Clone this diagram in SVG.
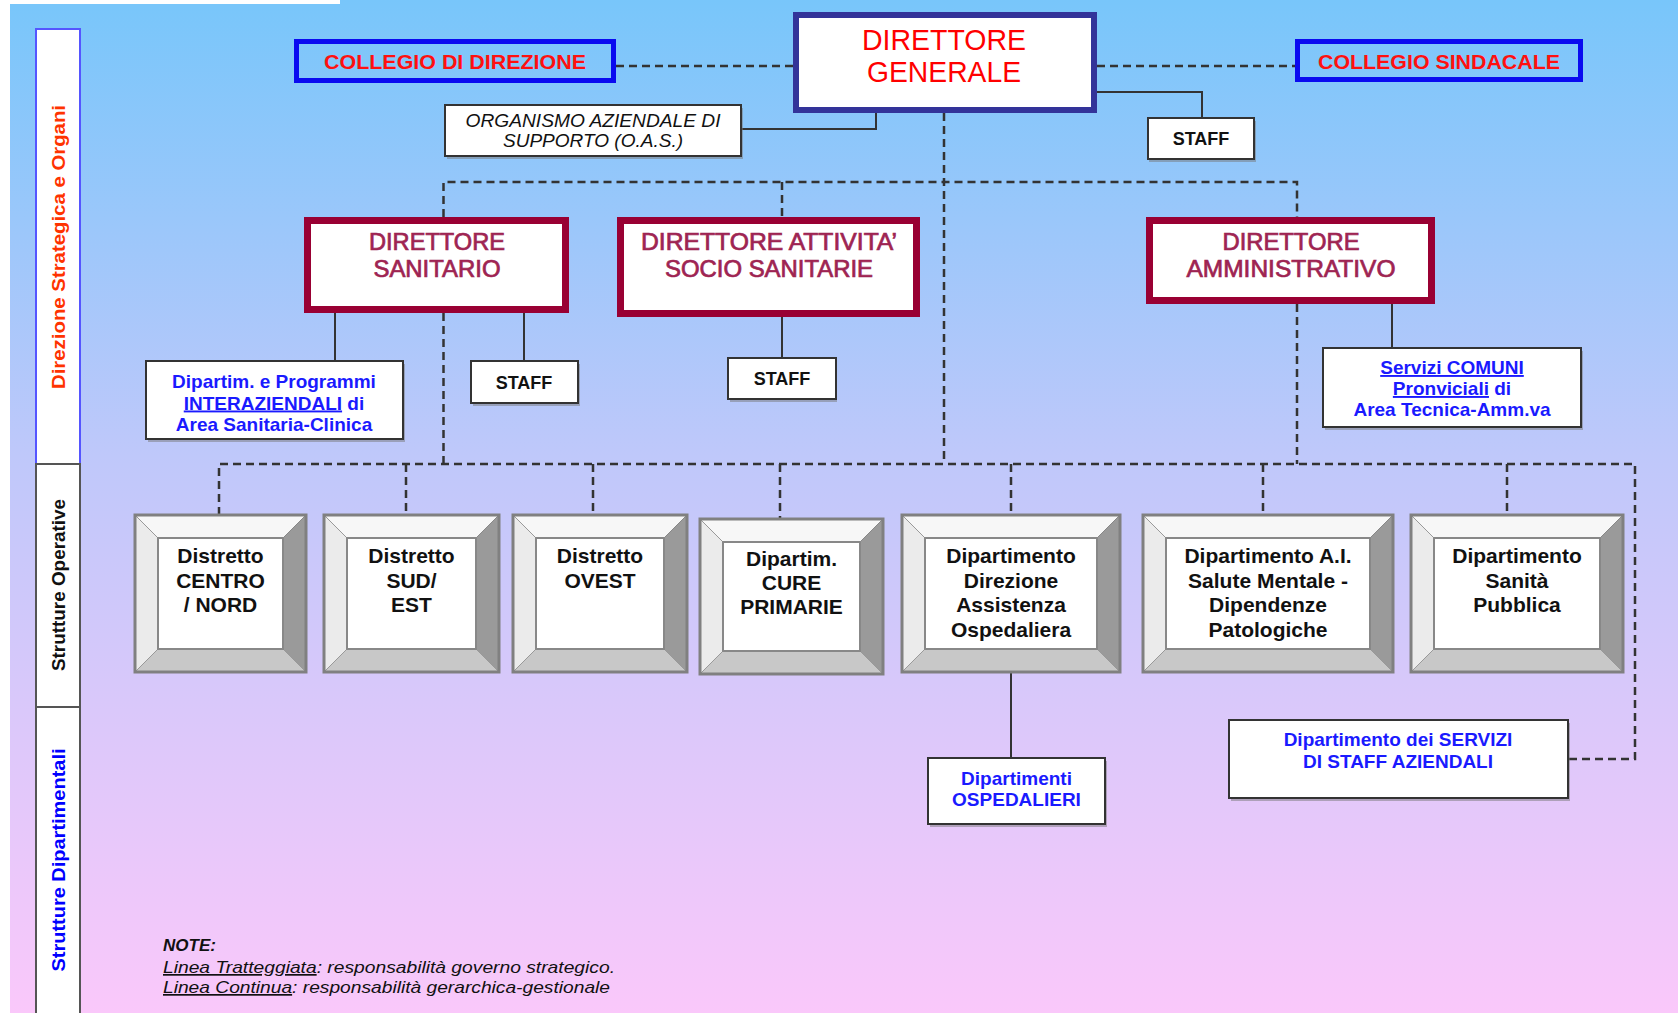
<svg xmlns="http://www.w3.org/2000/svg" width="1678" height="1013" viewBox="0 0 1678 1013">
<defs>
<linearGradient id="bg" x1="0" y1="0" x2="0" y2="1">
<stop offset="0" stop-color="#78C6FA"/>
<stop offset="0.45" stop-color="#BFC8FA"/>
<stop offset="1" stop-color="#FAC8FA"/>
</linearGradient>
</defs>
<style>
text{font-family:"Liberation Sans",Arial,sans-serif;}
.box{fill:#fff;stroke:#333;stroke-width:2;}
.shadow{fill:#777;opacity:0.5;}
.blue{fill:none;stroke:#0A0AF0;stroke-width:5;}
.navy{fill:#fff;stroke:#333399;stroke-width:6;}
.crim{fill:#fff;stroke:#990033;stroke-width:7;}
.t-red{fill:#FF1010;font-weight:bold;font-size:21px;text-anchor:middle;}
.t-dg{fill:#FF0000;font-size:29px;text-anchor:middle;}
.t-dir{fill:#9E2452;stroke:#9E2452;stroke-width:0.7;font-size:23px;text-anchor:middle;}
.t-staff{fill:#111;font-weight:bold;font-size:18px;text-anchor:middle;}
.t-blue{fill:#1A1AFF;font-weight:bold;font-size:19px;text-anchor:middle;}
.t-bev{fill:#111;font-weight:bold;font-size:21px;text-anchor:middle;}
.t-it{fill:#111;font-style:italic;font-size:18px;text-anchor:middle;}
.t-note{fill:#111;font-style:italic;font-size:17px;}
.bt{fill:#F7F7F7;stroke:#999;stroke-width:1;}
.bl{fill:#EBEBEB;stroke:#999;stroke-width:1;}
.br{fill:#9A9A9A;stroke:#888;stroke-width:1;}
.bb{fill:#C8C8C8;stroke:#999;stroke-width:1;}
.face{fill:#fff;stroke:#888;stroke-width:2;}
.outer{fill:none;stroke:#808080;stroke-width:3;}
.dash{fill:none;stroke:#333;stroke-width:2.5;stroke-dasharray:8 5;}
.solid{fill:none;stroke:#333;stroke-width:2;}
.side{fill:#fff;stroke-width:2;}
</style>

<rect x="0" y="0" width="1678" height="1013" fill="url(#bg)"/>
<rect x="0" y="0" width="10" height="1013" fill="#fff"/>
<rect x="0" y="0" width="340" height="4" fill="#fff"/>

<g id="side-labels">
<rect class="side" x="36" y="29" width="44" height="435" stroke="#5555FF"/>
<rect class="side" x="36" y="464" width="44" height="243" stroke="#555"/>
<rect class="side" x="36" y="707" width="44" height="310" stroke="#555"/>
<text transform="translate(65,247) rotate(-90)" text-anchor="middle" font-size="19" font-weight="bold" fill="#FF3300" textLength="284" lengthAdjust="spacingAndGlyphs">Direzione Strategica e Organi</text>
<text transform="translate(65,585) rotate(-90)" text-anchor="middle" font-size="19" font-weight="bold" fill="#111" textLength="172" lengthAdjust="spacingAndGlyphs">Strutture Operative</text>
<text transform="translate(65,860) rotate(-90)" text-anchor="middle" font-size="19" font-weight="bold" fill="#0000FF" textLength="223" lengthAdjust="spacingAndGlyphs">Strutture Dipartimentali</text>
</g>

<g id="connectors">
<path class="dash" d="M616 66 H793"/>
<path class="dash" d="M1097 66 H1295"/>
<path class="dash" d="M944 113 V464"/>
<path class="dash" d="M443.5 217 V182 H1297 V217"/>
<path class="dash" d="M782 182 V217"/>
<path class="dash" d="M443.5 313 V464"/>
<path class="dash" d="M1297 304 V464"/>
<path class="dash" d="M219 515 V464 H1635 V759 H1568"/>
<path class="dash" d="M406 464 V515"/>
<path class="dash" d="M593 464 V515"/>
<path class="dash" d="M780 464 V519"/>
<path class="dash" d="M1011 464 V515"/>
<path class="dash" d="M1263 464 V515"/>
<path class="dash" d="M1507 464 V515"/>
<path class="solid" d="M876 113 V129 H742"/>
<path class="solid" d="M1097 92 H1202 V118"/>
<path class="solid" d="M335 313 V361"/>
<path class="solid" d="M524 313 V361"/>
<path class="solid" d="M782 317 V358"/>
<path class="solid" d="M1392 304 V348"/>
<path class="solid" d="M1011 672 V758"/>
</g>

<g id="collegio-direzione">
<rect x="296.5" y="41.5" width="317" height="39" fill="#fff" class="blue"/>
<text class="t-red" x="455" y="68.5" textLength="262" lengthAdjust="spacingAndGlyphs">COLLEGIO DI DIREZIONE</text>
</g>

<g id="direttore-generale">
<rect class="navy" x="796" y="15" width="298" height="95"/>
<text class="t-dg" x="944" y="50" textLength="164" lengthAdjust="spacingAndGlyphs">DIRETTORE</text>
<text class="t-dg" x="944" y="82" textLength="154" lengthAdjust="spacingAndGlyphs">GENERALE</text>
</g>

<g id="collegio-sindacale">
<rect x="1297.5" y="41.5" width="283" height="38" fill="#fff" class="blue"/>
<text class="t-red" x="1439" y="68.5" textLength="242" lengthAdjust="spacingAndGlyphs">COLLEGIO SINDACALE</text>
</g>

<g id="oas">
<rect class="shadow" x="447" y="108" width="296" height="51"/>
<rect class="box" x="445" y="105" width="296" height="51"/>
<text class="t-it" x="593" y="127" textLength="255" lengthAdjust="spacingAndGlyphs">ORGANISMO AZIENDALE DI</text>
<text class="t-it" x="593" y="147" textLength="180" lengthAdjust="spacingAndGlyphs">SUPPORTO (O.A.S.)</text>
</g>

<g id="staff-dg">
<rect class="shadow" x="1149" y="121" width="107" height="41"/>
<rect class="box" x="1148" y="118" width="106" height="41"/>
<text class="t-staff" x="1201" y="145">STAFF</text>
</g>

<g id="direttore-sanitario">
<rect class="crim" x="307.5" y="220.5" width="258" height="89"/>
<text class="t-dir" x="437" y="250" textLength="136" lengthAdjust="spacingAndGlyphs">DIRETTORE</text>
<text class="t-dir" x="437" y="277" textLength="127" lengthAdjust="spacingAndGlyphs">SANITARIO</text>
</g>

<g id="direttore-socio-sanitario">
<rect class="crim" x="620.5" y="220.5" width="296" height="93"/>
<text class="t-dir" x="769" y="250" textLength="256" lengthAdjust="spacingAndGlyphs">DIRETTORE ATTIVITA’</text>
<text class="t-dir" x="769" y="277" textLength="208" lengthAdjust="spacingAndGlyphs">SOCIO SANITARIE</text>
</g>

<g id="direttore-amministrativo">
<rect class="crim" x="1149.5" y="220.5" width="282" height="80"/>
<text class="t-dir" x="1291" y="250" textLength="137" lengthAdjust="spacingAndGlyphs">DIRETTORE</text>
<text class="t-dir" x="1291" y="277" textLength="209" lengthAdjust="spacingAndGlyphs">AMMINISTRATIVO</text>
</g>

<g id="dip-interaziendali">
<rect class="shadow" x="148" y="364" width="257" height="78"/>
<rect class="box" x="146" y="361" width="257" height="78"/>
<text class="t-blue" x="274" y="388">Dipartim. e Programmi</text>
<text class="t-blue" x="274" y="409.5"><tspan text-decoration="underline">INTERAZIENDALI</tspan> di</text>
<text class="t-blue" x="274" y="430.5">Area Sanitaria-Clinica</text>
</g>

<g id="staff-sanitario">
<rect class="shadow" x="473" y="364" width="107" height="42"/>
<rect class="box" x="471" y="361" width="107" height="42"/>
<text class="t-staff" x="524" y="388.5">STAFF</text>
</g>

<g id="staff-socio">
<rect class="shadow" x="730" y="361" width="107" height="41"/>
<rect class="box" x="728" y="358" width="108" height="41"/>
<text class="t-staff" x="782" y="385">STAFF</text>
</g>

<g id="servizi-comuni">
<rect class="shadow" x="1325" y="351" width="258" height="79"/>
<rect class="box" x="1323" y="348" width="258" height="79"/>
<text class="t-blue" x="1452" y="374"><tspan text-decoration="underline">Servizi COMUNI</tspan></text>
<text class="t-blue" x="1452" y="395"><tspan text-decoration="underline">Pronviciali</tspan> di</text>
<text class="t-blue" x="1452" y="416">Area Tecnica-Amm.va</text>
</g>

<g id="distretto-centro-nord">
<polygon class="bt" points="135,515 306,515 283,538 158,538"/>
<polygon class="bl" points="135,515 158,538 158,649 135,672"/>
<polygon class="br" points="306,515 306,672 283,649 283,538"/>
<polygon class="bb" points="135,672 158,649 283,649 306,672"/>
<rect class="face" x="158" y="538" width="125" height="111"/>
<rect class="outer" x="135" y="515" width="171" height="157"/>
<text class="t-bev" x="220.5" y="563">Distretto</text>
<text class="t-bev" x="220.5" y="587.5">CENTRO</text>
<text class="t-bev" x="220.5" y="612">/ NORD</text>
</g>

<g id="distretto-sud-est">
<polygon class="bt" points="324,515 499,515 476,538 347,538"/>
<polygon class="bl" points="324,515 347,538 347,649 324,672"/>
<polygon class="br" points="499,515 499,672 476,649 476,538"/>
<polygon class="bb" points="324,672 347,649 476,649 499,672"/>
<rect class="face" x="347" y="538" width="129" height="111"/>
<rect class="outer" x="324" y="515" width="175" height="157"/>
<text class="t-bev" x="411.5" y="563">Distretto</text>
<text class="t-bev" x="411.5" y="587.5">SUD/</text>
<text class="t-bev" x="411.5" y="612">EST</text>
</g>

<g id="distretto-ovest">
<polygon class="bt" points="513,515 687,515 664,538 536,538"/>
<polygon class="bl" points="513,515 536,538 536,649 513,672"/>
<polygon class="br" points="687,515 687,672 664,649 664,538"/>
<polygon class="bb" points="513,672 536,649 664,649 687,672"/>
<rect class="face" x="536" y="538" width="128" height="111"/>
<rect class="outer" x="513" y="515" width="174" height="157"/>
<text class="t-bev" x="600" y="563">Distretto</text>
<text class="t-bev" x="600" y="587.5">OVEST</text>
</g>

<g id="cure-primarie">
<polygon class="bt" points="700,519 883,519 860,542 723,542"/>
<polygon class="bl" points="700,519 723,542 723,651 700,674"/>
<polygon class="br" points="883,519 883,674 860,651 860,542"/>
<polygon class="bb" points="700,674 723,651 860,651 883,674"/>
<rect class="face" x="723" y="542" width="137" height="109"/>
<rect class="outer" x="700" y="519" width="183" height="155"/>
<text class="t-bev" x="791.5" y="566">Dipartim.</text>
<text class="t-bev" x="791.5" y="590">CURE</text>
<text class="t-bev" x="791.5" y="614">PRIMARIE</text>
</g>

<g id="assistenza-ospedaliera">
<polygon class="bt" points="902,515 1120,515 1097,538 925,538"/>
<polygon class="bl" points="902,515 925,538 925,649 902,672"/>
<polygon class="br" points="1120,515 1120,672 1097,649 1097,538"/>
<polygon class="bb" points="902,672 925,649 1097,649 1120,672"/>
<rect class="face" x="925" y="538" width="172" height="111"/>
<rect class="outer" x="902" y="515" width="218" height="157"/>
<text class="t-bev" x="1011" y="563">Dipartimento</text>
<text class="t-bev" x="1011" y="587.5">Direzione</text>
<text class="t-bev" x="1011" y="612">Assistenza</text>
<text class="t-bev" x="1011" y="636.5">Ospedaliera</text>
</g>

<g id="salute-mentale">
<polygon class="bt" points="1143,515 1393,515 1370,538 1166,538"/>
<polygon class="bl" points="1143,515 1166,538 1166,649 1143,672"/>
<polygon class="br" points="1393,515 1393,672 1370,649 1370,538"/>
<polygon class="bb" points="1143,672 1166,649 1370,649 1393,672"/>
<rect class="face" x="1166" y="538" width="204" height="111"/>
<rect class="outer" x="1143" y="515" width="250" height="157"/>
<text class="t-bev" x="1268" y="563">Dipartimento A.I.</text>
<text class="t-bev" x="1268" y="587.5">Salute Mentale -</text>
<text class="t-bev" x="1268" y="612">Dipendenze</text>
<text class="t-bev" x="1268" y="636.5">Patologiche</text>
</g>

<g id="sanita-pubblica">
<polygon class="bt" points="1411,515 1623,515 1600,538 1434,538"/>
<polygon class="bl" points="1411,515 1434,538 1434,649 1411,672"/>
<polygon class="br" points="1623,515 1623,672 1600,649 1600,538"/>
<polygon class="bb" points="1411,672 1434,649 1600,649 1623,672"/>
<rect class="face" x="1434" y="538" width="166" height="111"/>
<rect class="outer" x="1411" y="515" width="212" height="157"/>
<text class="t-bev" x="1517" y="563">Dipartimento</text>
<text class="t-bev" x="1517" y="587.5">Sanità</text>
<text class="t-bev" x="1517" y="612">Pubblica</text>
</g>

<g id="dip-ospedalieri">
<rect class="shadow" x="930" y="761" width="177" height="66"/>
<rect class="box" x="928" y="758" width="177" height="66"/>
<text class="t-blue" x="1016.5" y="785">Dipartimenti</text>
<text class="t-blue" x="1016.5" y="806">OSPEDALIERI</text>
</g>

<g id="servizi-staff">
<rect class="shadow" x="1231" y="723" width="339" height="78"/>
<rect class="box" x="1229" y="720" width="339" height="78"/>
<text class="t-blue" x="1398" y="746">Dipartimento dei SERVIZI</text>
<text class="t-blue" x="1398" y="768">DI STAFF AZIENDALI</text>
</g>

<g id="note">
<text class="t-note" x="163" y="951" font-weight="bold">NOTE:</text>
<text class="t-note" x="163" y="973" textLength="452" lengthAdjust="spacingAndGlyphs"><tspan text-decoration="underline">Linea Tratteggiata</tspan>: responsabilità governo strategico.</text>
<text class="t-note" x="163" y="993" textLength="447" lengthAdjust="spacingAndGlyphs"><tspan text-decoration="underline">Linea Continua</tspan>: responsabilità gerarchica-gestionale</text>
</g>
</svg>
